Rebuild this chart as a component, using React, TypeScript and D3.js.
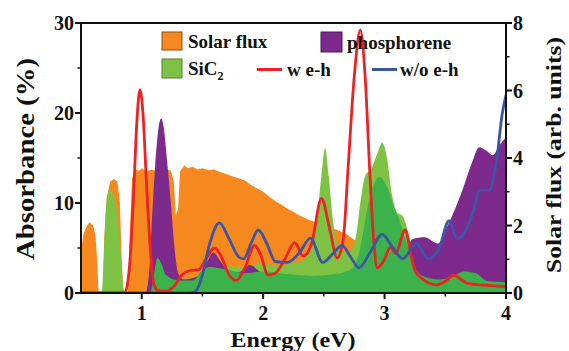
import React from "react";
import * as d3 from "d3";

// [energy (eV), value]
const solarFlux: [number, number][] = [
  [0.5, 1.2], [0.52, 1.75], [0.55, 2.0], [0.57, 2.1], [0.6, 2.0], [0.62, 1.7], [0.635, 0.8], [0.645, 0],
  [0.68, 0], [0.69, 1.5], [0.71, 2.8], [0.74, 3.3], [0.77, 3.38], [0.8, 3.3], [0.82, 2.7], [0.835, 1.0], [0.85, 0],
  [0.885, 0], [0.9, 1.6], [0.92, 3.4], [0.95, 3.65], [0.98, 3.62], [1.0, 3.7], [1.04, 3.6], [1.08, 3.66],
  [1.12, 3.6], [1.16, 3.7], [1.2, 3.68], [1.24, 3.62], [1.265, 3.3], [1.28, 2.3], [1.3, 2.5], [1.315, 3.6],
  [1.35, 3.78], [1.38, 3.7], [1.42, 3.74], [1.46, 3.66], [1.5, 3.7], [1.55, 3.64], [1.6, 3.66], [1.65, 3.58],
  [1.7, 3.52], [1.75, 3.45], [1.8, 3.4], [1.85, 3.33], [1.9, 3.2], [1.95, 3.1], [2.0, 3.0], [2.05, 2.85],
  [2.11, 2.7], [2.16, 2.6], [2.2, 2.5], [2.25, 2.4], [2.3, 2.3], [2.38, 2.16], [2.45, 2.08], [2.55, 1.95],
  [2.62, 1.85], [2.67, 1.78], [2.73, 1.63], [2.8, 1.45], [2.9, 1.2], [3.0, 0.9], [3.1, 0.5], [3.2, 0.2],
  [3.3, 0], [4.0, 0],
];

const sic2Light: [number, number][] = [
  [0.5, 0], [0.67, 0], [0.685, 3], [0.7, 8], [0.72, 10.8], [0.745, 11.5], [0.77, 10.8], [0.8, 8.5],
  [0.83, 4], [0.85, 0.5], [0.87, 0], [1.07, 0], [1.1, 1.5], [1.14, 3], [1.18, 2], [1.22, 1.8], [1.3, 1.6],
  [1.42, 1.6], [1.5, 2.6], [1.56, 3.2], [1.7, 3.0], [1.85, 2.9], [2.0, 3.3], [2.1, 3.0], [2.2, 3.2],
  [2.3, 3.5], [2.38, 4.5], [2.44, 8], [2.48, 13], [2.51, 16.1], [2.54, 13], [2.58, 7.5], [2.63, 5],
  [2.7, 4.5], [2.76, 6], [2.8, 10], [2.84, 13], [2.89, 13.8], [2.94, 15.5], [2.98, 16.7], [3.02, 15],
  [3.06, 11], [3.1, 9], [3.15, 8.5], [3.2, 6.5], [3.25, 4], [3.3, 2.8], [3.5, 2.3], [3.7, 2.5], [4.0, 1.8],
];

const phosphorene: [number, number][] = [
  [0.5, 0], [1.03, 0], [1.06, 2], [1.08, 7], [1.11, 14], [1.14, 18.5], [1.16, 19.4], [1.18, 18.5],
  [1.21, 14.5], [1.24, 10], [1.27, 5], [1.3, 2.2], [1.35, 1.5], [1.45, 1.8], [1.52, 3], [1.59, 4.5],
  [1.65, 3.5], [1.72, 2.3], [1.8, 2.3], [1.89, 3.1], [1.96, 2.5], [2.05, 1.2], [2.5, 1.2], [3.0, 1.2],
  [3.17, 1.5], [3.2, 5], [3.23, 6], [3.33, 6.2], [3.44, 5.5], [3.52, 7.5], [3.64, 11.4], [3.72, 14.5],
  [3.78, 16.2], [3.84, 15.8], [3.89, 15.3], [3.95, 16.5], [4.0, 17.3],
];

const sic2Dark: [number, number][] = [
  [0.5, 0], [1.07, 0], [1.1, 2], [1.13, 3.9], [1.16, 3.3], [1.2, 2], [1.3, 1.4], [1.42, 1.4],
  [1.5, 2.5], [1.56, 2.9], [1.7, 2.6], [1.85, 2.2], [2.0, 2.4], [2.2, 2.1], [2.4, 1.9], [2.6, 2.1],
  [2.72, 2.6], [2.8, 5], [2.86, 9.5], [2.91, 12], [2.96, 12.9], [3.02, 11.8], [3.08, 9.5], [3.13, 7.8],
  [3.2, 4.8], [3.26, 2.6], [3.33, 1.8], [3.45, 1.5], [3.56, 1.8], [3.65, 2.4], [3.75, 2.2], [3.85, 1.3],
  [4.0, 1.2],
];

const withEh: [number, number][] = [
  [0.5, 0], [0.86, 0], [0.9, 3], [0.93, 10], [0.96, 19], [0.985, 22.6], [1.01, 20], [1.04, 12],
  [1.07, 5], [1.1, 1], [1.13, 0.3], [1.2, 0.2], [1.27, 0.8], [1.33, 2], [1.4, 2.5], [1.47, 2.6],
  [1.53, 3.8], [1.6, 5], [1.65, 4.2], [1.72, 2], [1.78, 1.4], [1.85, 2.8], [1.93, 5.3], [1.98, 4.2],
  [2.04, 2.0], [2.1, 2.2], [2.18, 3.8], [2.26, 5.6], [2.33, 4.1], [2.4, 5.5], [2.48, 10.5], [2.55, 7],
  [2.61, 3.9], [2.66, 6], [2.7, 14], [2.75, 24], [2.8, 29.2], [2.84, 24], [2.88, 13], [2.91, 6],
  [2.94, 2.8], [2.99, 3.5], [3.05, 5.1], [3.09, 4.4], [3.17, 7], [3.22, 4], [3.25, 2.5], [3.3, 1.7],
  [3.43, 0.9], [3.5, 1.3], [3.57, 2.0], [3.63, 1.5], [3.68, 1.1], [3.79, 0.9], [3.9, 0.8], [4.0, 0.7],
];

const withoutEh: [number, number][] = [
  [0.5, 0], [1.4, 0], [1.45, 0.3], [1.5, 2], [1.56, 5.5], [1.64, 7.8], [1.72, 6], [1.8, 4],
  [1.84, 3.8], [1.9, 5.5], [1.96, 7], [2.03, 5.5], [2.1, 3.5], [2.2, 3.4], [2.3, 4.5], [2.39, 6.1],
  [2.49, 3.4], [2.57, 4.3], [2.65, 5.3], [2.72, 4], [2.79, 2.8], [2.88, 4.5], [2.98, 6.5], [3.07, 5],
  [3.15, 3.8], [3.26, 5.5], [3.36, 3.8], [3.45, 5], [3.53, 8], [3.6, 6], [3.67, 7], [3.74, 9.5],
  [3.78, 11.4], [3.86, 11.4], [3.92, 14.5], [3.97, 20], [4.0, 22],
];

const xTicks = [1, 2, 3, 4];
const xMinor = [1.5, 2.5, 3.5];
const yLeftTicks = [0, 10, 20, 30];
const yLeftMinor = [5, 15, 25];
const yRightTicks = [0, 2, 4, 6, 8];
const yRightMinor = [1, 3, 5, 7];

const C = {
  orange: "#f5891f",
  light: "#7dc242",
  dark: "#3cb34a",
  purple: "#7d2a8c",
  red: "#ec2224",
  blue: "#3a56a5",
};

const W = 569;
const H = 351;
const FONT = "Times New Roman, Times, Liberation Serif, DejaVu Serif, Nimbus Roman, FreeSerif, serif";

export default function App() {
  const x = d3.scaleLinear().domain([0.5, 4]).range([81, 506]);
  const yL = d3.scaleLinear().domain([0, 30]).range([293, 23]);
  const yR = d3.scaleLinear().domain([0, 8]).range([293, 23]);

  const areaL = d3
    .area<[number, number]>()
    .x((d) => x(d[0]))
    .y0(yL(0))
    .y1((d) => yL(d[1]))
    .curve(d3.curveMonotoneX);
  const areaSolar = d3
    .area<[number, number]>()
    .x((d) => x(d[0]))
    .y0(yR(0))
    .y1((d) => yR(d[1]))
    .curve(d3.curveLinear);
  const lineL = d3
    .line<[number, number]>()
    .x((d) => x(d[0]))
    .y((d) => yL(d[1]))
    .curve(d3.curveMonotoneX);

  const [x0, x1] = x.range();
  const [yb, yt] = yL.range();

  return (
    <svg width={W} height={H} style={{ position: "absolute", left: 0, top: 0 }}>
      <rect width={W} height={H} fill="#fff" />
      <defs>
        <clipPath id="plot">
          <rect x={x0} y={yt} width={x1 - x0} height={yb - yt} />
        </clipPath>
      </defs>

      <g clipPath="url(#plot)">
        <path d={areaSolar(solarFlux) ?? ""} fill={C.orange} />
        <path d={areaL(sic2Light) ?? ""} fill={C.light} />
        <path d={areaL(phosphorene) ?? ""} fill={C.purple} />
        <path d={areaL(sic2Dark) ?? ""} fill={C.dark} />
        <path d={lineL(withEh) ?? ""} fill="none" stroke={C.red} strokeWidth={2.8} strokeLinejoin="round" />
        <path d={lineL(withoutEh) ?? ""} fill="none" stroke={C.blue} strokeWidth={2.8} strokeLinejoin="round" />
      </g>

      {/* frame */}
      <rect x={x0} y={yt} width={x1 - x0} height={yb - yt} fill="none" stroke="#111" strokeWidth={2} />

      <g fontFamily={FONT} fontWeight="bold" fill="#111">
        {/* x axis */}
        {xTicks.map((t) => (
          <g key={"xt" + t}>
            <line x1={x(t)} x2={x(t)} y1={yb} y2={yb + 6} stroke="#111" strokeWidth={2} />
            <text x={x(t)} y={320} textAnchor="middle" fontSize={20}>
              {t}
            </text>
          </g>
        ))}
        {xMinor.map((t) => (
          <line key={"xm" + t} x1={x(t)} x2={x(t)} y1={yb} y2={yb + 3.5} stroke="#111" strokeWidth={1.5} />
        ))}

        {/* left axis */}
        {yLeftTicks.map((t) => (
          <g key={"yl" + t}>
            <line x1={x0 - 6} x2={x0} y1={yL(t)} y2={yL(t)} stroke="#111" strokeWidth={2} />
            <text x={74} y={yL(t)} dy="0.35em" textAnchor="end" fontSize={20}>
              {t}
            </text>
          </g>
        ))}
        {yLeftMinor.map((t) => (
          <line key={"ylm" + t} x1={x0 - 3.5} x2={x0} y1={yL(t)} y2={yL(t)} stroke="#111" strokeWidth={1.5} />
        ))}

        {/* right axis */}
        {yRightTicks.map((t) => (
          <g key={"yr" + t}>
            <line x1={x1} x2={x1 + 6} y1={yR(t)} y2={yR(t)} stroke="#111" strokeWidth={2} />
            <text x={513} y={yR(t)} dy="0.35em" textAnchor="start" fontSize={20}>
              {t}
            </text>
          </g>
        ))}
        {yRightMinor.map((t) => (
          <line key={"yrm" + t} x1={x1} x2={x1 + 3.5} y1={yR(t)} y2={yR(t)} stroke="#111" strokeWidth={1.5} />
        ))}

        {/* axis titles */}
        <text
          transform="translate(34,159) rotate(-90)"
          textAnchor="middle"
          fontSize={26}
          textLength={202}
          lengthAdjust="spacingAndGlyphs"
        >
          Absorbance (%)
        </text>
        <text
          transform="translate(561,155) rotate(-90)"
          textAnchor="middle"
          fontSize={22}
          textLength={236}
          lengthAdjust="spacingAndGlyphs"
        >
          Solar flux (arb. units)
        </text>
        <text x={293} y={347} textAnchor="middle" fontSize={21} textLength={125} lengthAdjust="spacingAndGlyphs">
          Energy (eV)
        </text>

        {/* legend */}
        <g fontSize={19}>
          <rect x={162} y={32} width={20} height={18} fill={C.orange} stroke="#8a4d16" strokeWidth={1} />
          <text x={188} y={48}>Solar flux</text>
          <rect x={162} y={59} width={20} height={19} fill={C.light} stroke="#5d7a3a" strokeWidth={1} />
          <text x={188} y={75}>
            SiC
            <tspan fontSize={12} dy={5}>2</tspan>
          </text>
          <rect x={321} y={32} width={21} height={20} fill={C.purple} stroke="#4e1a58" strokeWidth={1} />
          <text x={347} y={49}>phosphorene</text>
          <line x1={257} x2={282} y1={69.5} y2={69.5} stroke={C.red} strokeWidth={3} />
          <text x={287} y={76}>w e-h</text>
          <line x1={372} x2={397} y1={69.5} y2={69.5} stroke={C.blue} strokeWidth={3} />
          <text x={400} y={76}>w/o e-h</text>
        </g>
      </g>
    </svg>
  );
}
